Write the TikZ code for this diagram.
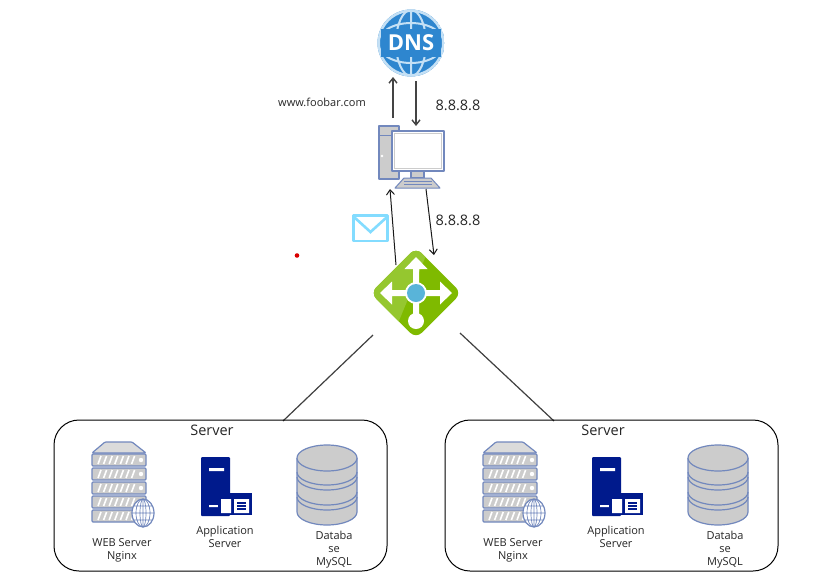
\documentclass[tikz,border=0pt]{standalone}
\usepackage{fontspec}
\usetikzlibrary{arrows.meta}
\setmainfont{Open Sans}
\definecolor{dnsblue}{HTML}{2E86CF}
\definecolor{dnsring}{HTML}{C4E0F5}
\definecolor{iconline}{HTML}{7288BD}
\definecolor{icongrey}{HTML}{CCCCCC}
\definecolor{appblue}{HTML}{001A8C}
\definecolor{lbgreen}{HTML}{7FBA00}
\definecolor{lblight}{HTML}{95C72F}
\definecolor{lbblue}{HTML}{59B4D9}
\definecolor{mailblue}{HTML}{83DCFF}
\definecolor{linkgrey}{HTML}{444444}
\tikzset{
	label11/.style={align=center,font=\fontsize{11}{13}\selectfont,text=black!85},
	label14/.style={font=\fontsize{14.5}{16}\selectfont,text=black!85},
	icon/.style={draw=iconline,fill=icongrey,line width=1.2pt,line join=round},
	rack/.style={icon,rounded corners=1pt},
	link/.style={->,line width=1pt,black!90},
	dnslink/.style={->,line width=1.4pt,linkgrey},
	lanlink/.style={line width=1.2pt,black!75},
	servers/.pic={
		% box and title
		\node[draw=black,line width=1pt,rounded corners=25pt,minimum width=333pt,minimum height=151pt,inner sep=0pt] (-box) at (166.5,75.5) {};
		\node[label14] (-title) at (158,10) {Server};
		% web server
		\draw[rack,fill=icongrey!70] (51,22) -- (78,22) -- (92,33) -- (38,33) -- cycle;
		\foreach \ya in {34,48,62,76,90}{
			\draw[rack] (38,\ya) rectangle (92,\ya+12);
			\foreach \xa in {0,...,6}
				\draw[white,line width=1.6pt] (44+\xa*5.6,\ya+10) -- (47+\xa*5.6,\ya+2);
			\fill[white] (87,\ya+6) circle [radius=2.2];
		}
		\draw[icon,fill=white] (89,93) ellipse [x radius=11,y radius=14];
		\draw[iconline,line width=.7pt] (89,93) ellipse [x radius=7,y radius=14] (89,93) ellipse [x radius=3,y radius=14]
			(89,79) -- (89,107) (78,93) -- (100,93) (79.5,86) -- (98.5,86) (79.5,100) -- (98.5,100);
		\node[label11] (-web) at (68,130) {WEB Server\\Nginx};
		% application server
		\fill[appblue,rounded corners=1pt] (147,37) rectangle (176,96);
		\fill[white] (155,48) rectangle (170,51) (155,85) rectangle (164,87);
		\fill[appblue] (164,73) rectangle (198,95);
		\fill[white] (167,79) rectangle (177,93) (180,79) rectangle (195,93);
		\foreach \ya in {82,85,88}
			\fill[appblue] (183,\ya) rectangle (192,\ya+1.5);
		\node[label11] (-app) at (171,117) {Application\\Server};
		% database
		\draw[icon] (243,38) -- (243,92) arc [start angle=180,end angle=360,x radius=30,y radius=-13] -- (303,38);
		\draw[icon] (273,38) ellipse [x radius=30,y radius=13];
		\draw[icon,fill=none] (243,52) arc [start angle=180,end angle=360,x radius=30,y radius=-13];
		\draw[icon,fill=none] (243,57) arc [start angle=180,end angle=360,x radius=30,y radius=-13];
		\draw[icon,fill=none] (243,72) arc [start angle=180,end angle=360,x radius=30,y radius=-13];
		\draw[icon,fill=none] (243,77) arc [start angle=180,end angle=360,x radius=30,y radius=-13];
		\node[label11] (-db) at (280,130) {Databa\\se\\MySQL};
	}
}

\begin{document}
\begin{tikzpicture}[>={Straight Barb[length=5pt,width=8pt]},x=1pt,y=-1pt]
	\useasboundingbox[fill=white] (0,0) rectangle (822,582);

	% DNS globe
	\begin{scope}
		\clip (411,43) circle [radius=33.5];
		\fill[dnsblue] (411,43) circle [radius=33.5];
		\draw[dnsring,line width=3pt] (411,43) circle [radius=32.5];
		\draw[dnsring,line width=2pt] (411,43) ellipse [x radius=15,y radius=33]
			(411,43) ellipse [x radius=33,y radius=20] (411,10) -- (411,76);
		\fill[dnsblue] (381,29) rectangle (441,57);
	\end{scope}
	\node[font=\fontsize{22}{24}\selectfont\bfseries,text=white,inner sep=0pt] (dns) at (411,43) {DNS};
	\coordinate (dnsup) at (393,77);
	\coordinate (dnsdown) at (416,81);

	% pc
	\draw[icon] (379,126) rectangle (399,179);
	\draw[iconline,line width=1pt] (379,135) -- (399,135);
	\fill[white] (382,156) circle [radius=1.3];
	\draw[icon] (411,171) rectangle (424,178);
	\draw[icon,line width=1pt] (404,178) -- (431,178) -- (440,188) -- (395,188) -- cycle;
	\draw[iconline,line width=.8pt] (404,181) -- (432,181) (404,184) -- (432,184);
	\draw[icon,fill=white] (392,131) rectangle (444,171);
	\draw[icongrey,line width=1.6pt] (394.5,133.5) rectangle (441.5,168.5);
	\coordinate (pctop) at (393,118);
	\coordinate (pcin) at (416,126);
	\coordinate (pcbottom) at (390,189);
	\coordinate (pcout) at (426,189);

	\draw[dnslink] (pctop) -- (dnsup);
	\draw[dnslink] (dnsdown) -- (pcin);

	\node[label11] (site) at (322,102) {www.foobar.com};
	\node[label14] (dnsip) at (458,105) {8.8.8.8};
	\node[label14] (lbip) at (458,220) {8.8.8.8};

	% mail
	\draw[mailblue,fill=white,line width=2.6pt,line join=round] (353.5,215.5) rectangle (387.5,241);
	\draw[mailblue,line width=2.6pt] (354,217) -- (370.5,232) -- (387,217);

	\fill[red!85!black] (297,255.5) circle [radius=2.3];

	% load balancer
	\begin{scope}
		\clip[rounded corners=8pt] (416,247.5) -- (461.5,293) -- (416,338.5) -- (370.5,293) -- cycle;
		\fill[lbgreen] (368,246) rectangle (464,340);
		\fill[lblight] (368,246) -- (430,246) -- (396,328) -- (368,340) -- cycle;
	\end{scope}
	\fill[white] (416,257) -- (427.5,269) -- (419,269) -- (419,290) -- (440,290) -- (440,281.5) -- (452,293) -- (440,304.5) -- (440,296)
		-- (419,296) -- (419,316) -- (413,316) -- (413,296) -- (392,296) -- (392,304.5) -- (380,293) -- (392,281.5) -- (392,290) -- (413,290) -- (413,269) -- (404.5,269) -- cycle;
	\fill[white] (416,321) circle [radius=8];
	\fill[white] (416,293) circle [radius=11];
	\fill[lbblue] (416,293) circle [radius=9];
	\coordinate (lbin) at (396,265);
	\coordinate (lbout) at (434,255);
	\coordinate (lbleft) at (373,335);
	\coordinate (lbright) at (460,333);
	\coordinate (leftroof) at (283,421);
	\coordinate (rightroof) at (554,421);

	\draw[link] (lbin) -- (pcbottom);
	\draw[link] (pcout) -- (lbout);
	\draw[lanlink] (lbleft) -- (leftroof);
	\draw[lanlink] (lbright) -- (rightroof);

	\pic (lefts) at (54,420) {servers};
	\pic (rights) at (445,420) {servers};
\end{tikzpicture}
\end{document}
